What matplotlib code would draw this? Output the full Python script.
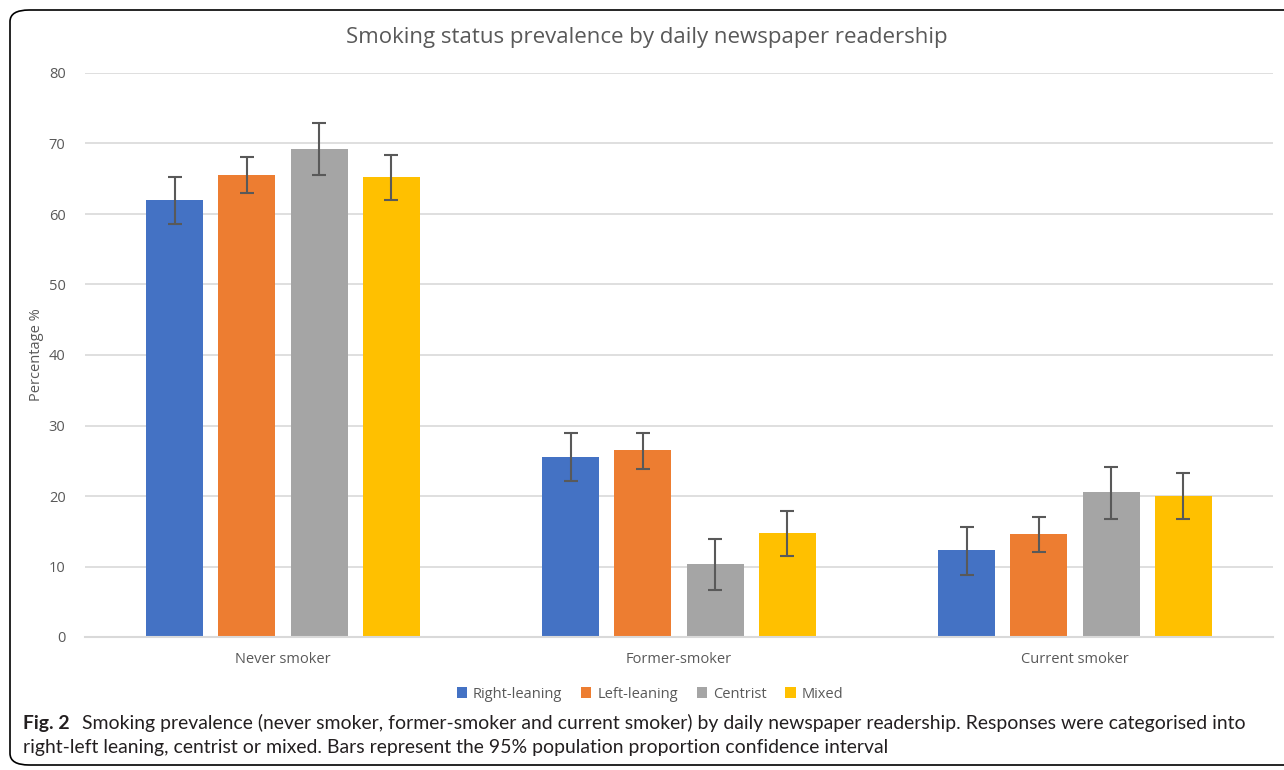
import matplotlib.pyplot as plt
import numpy as np
from matplotlib.patches import FancyBboxPatch

categories = ["Never smoker", "Former-smoker", "Current smoker"]
series = ["Right-leaning", "Left-leaning", "Centrist", "Mixed"]
colors = ["#4472C4", "#ED7D31", "#A5A5A5", "#FFC000"]

# valores por série (never, former, current)
valores = {
    "Right-leaning": [62.0, 25.6, 12.3],
    "Left-leaning": [65.6, 26.5, 14.6],
    "Centrist": [69.2, 10.3, 20.5],
    "Mixed": [65.2, 14.8, 20.0],
}
# intervalos de confiança 95% (inferior, superior)
ic_inf = {
    "Right-leaning": [58.6, 22.1, 8.8],
    "Left-leaning": [63.0, 23.9, 12.1],
    "Centrist": [65.5, 6.7, 16.7],
    "Mixed": [62.0, 11.5, 16.7],
}
ic_sup = {
    "Right-leaning": [65.3, 29.0, 15.6],
    "Left-leaning": [68.1, 29.0, 17.0],
    "Centrist": [72.9, 13.9, 24.1],
    "Mixed": [68.4, 17.9, 23.2],
}

cinza = "#595959"
plt.rcParams['font.family'] = ['Open Sans', 'DejaVu Sans']

fig = plt.figure(figsize=(12.84, 7.70), dpi=100)
ax = fig.add_axes([85/1284, 133/770, (1273-85)/1284, (637-73)/770])

x = np.arange(len(categories))
largura = 0.144
passo = 0.182
for i, s in enumerate(series):
    pos = x + (i - 1.5) * passo
    v = np.array(valores[s])
    err = [v - np.array(ic_inf[s]), np.array(ic_sup[s]) - v]
    ax.bar(pos, v, largura, color=colors[i], label=s, zorder=2)
    ax.errorbar(pos, v, yerr=err, fmt='none', ecolor=cinza, elinewidth=1.5,
                capsize=5, capthick=1.5, zorder=3)

ax.set_xlim(-0.5, 2.5)
ax.set_ylim(0, 80)
ax.set_yticks(range(0, 81, 10))
ax.set_xticks(x)
ax.set_xticklabels(categories)
ax.tick_params(length=0, colors=cinza, labelsize=10.5)
ax.tick_params(axis='y', pad=14)
ax.tick_params(axis='x', pad=11)
ax.grid(axis='y', color="#D9D9D9", linewidth=1.2, zorder=0)
for sp in ["top", "right", "left"]:
    ax.spines[sp].set_visible(False)
ax.spines["bottom"].set_color("#D9D9D9")
ax.spines["bottom"].set_linewidth(1.5)
ax.set_ylabel("Percentage %", color=cinza, fontsize=10.5)
ax.yaxis.set_label_coords((44 - 85)/1188, 0.5)

fig.text(647/1284, 1 - 37/770, "Smoking status prevalence by daily newspaper readership",
         ha="center", va="center", fontsize=16, color=cinza)

leg = fig.legend(loc="center", bbox_to_anchor=(650/1284, 1 - 694/770), ncol=4,
                 frameon=False, fontsize=10.5, handlelength=0.7, handleheight=0.7,
                 handletextpad=0.4, columnspacing=1.3)
for t in leg.get_texts():
    t.set_color(cinza)

# legenda da figura
linha1 = "Smoking prevalence (never smoker, former-smoker and current smoker) by daily newspaper readership. Responses were categorised into"
linha2 = "right-left leaning, centrist or mixed. Bars represent the 95% population proportion confidence interval"
fam = ['Lato', 'DejaVu Sans']
tam = 13.5
fig.text(23/1284, 1 - 723/770, "Fig. 2", ha="left", va="center", fontsize=tam,
         fontweight="bold", color="#231F20", family=fam)
t1 = fig.text(82/1284, 1 - 723/770, linha1, ha="left", va="center",
              fontsize=tam, color="#231F20", family=fam)
t2 = fig.text(23/1284, 1 - 748/770, linha2, ha="left", va="center",
              fontsize=tam, color="#231F20", family=fam)

# ajusta o tamanho da letra para a linha 1 acabar perto de x=1250
r = fig.canvas.get_renderer()
larg = t1.get_window_extent(r).width
novo = tam * (1250 - 82) / larg
for t in fig.texts[-3:]:
    t.set_fontsize(novo)

moldura = FancyBboxPatch((10/1284, 5/770), 1300/1284, 755/770,
                         boxstyle="round,pad=0,rounding_size=0.015",
                         transform=fig.transFigure, fill=False,
                         edgecolor="black", linewidth=1.2)
fig.patches.append(moldura)

fig.savefig("out.png", dpi=100)
